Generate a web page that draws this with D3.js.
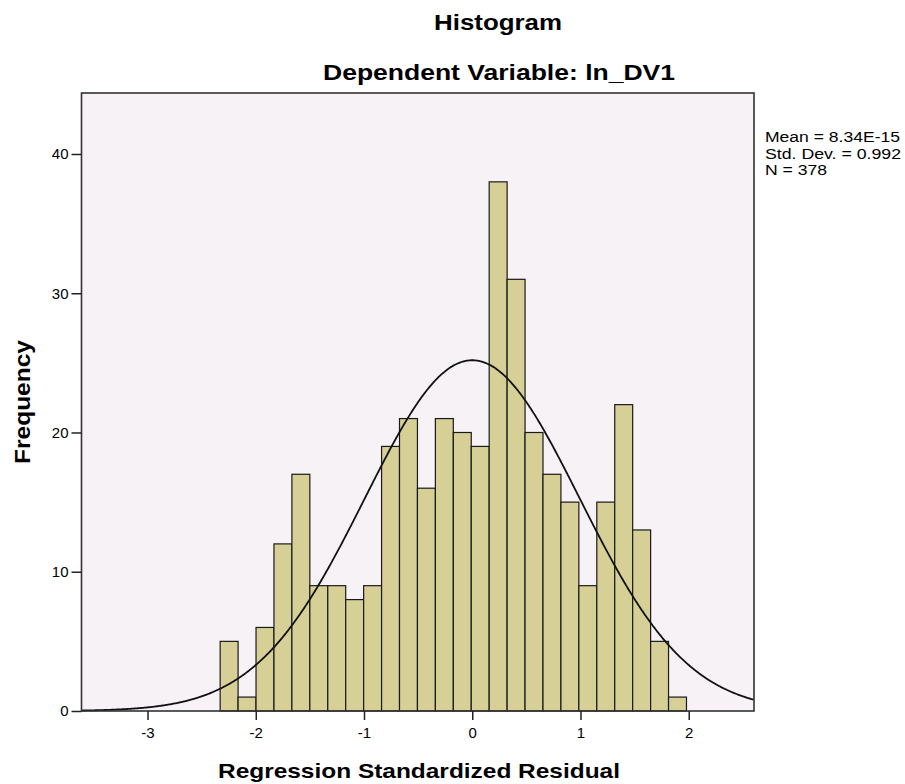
<!DOCTYPE html>
<html>
<head>
<meta charset="utf-8">
<script src="https://cdn.jsdelivr.net/npm/d3@7"></script>
<style>
  body { margin: 0; background: #ffffff; }
  text { font-family: "Liberation Sans", Arial, sans-serif; fill: #000; }
</style>
</head>
<body>
<svg id="chart"></svg>
<script>
const width = 905;
const height = 784;

// 資料：直方圖每個 bin 的次數
const counts = [5, 1, 6, 12, 17, 9, 9, 8, 9, 19, 21, 16, 21, 20, 19, 38, 31, 20, 17, 15, 9, 15, 22, 13, 5, 1];
const binStart = -2.329;
const binWidth = 0.1657;
const xTicks = [-3, -2, -1, 0, 1, 2];
const yTicks = [0, 10, 20, 30, 40];
const statsLines = ['Mean = 8.34E-15', 'Std. Dev. = 0.992', 'N = 378'];
const mean = 8.34e-15, sd = 0.992, n = 378;

// 繪圖區
const plot = { left: 81.5, right: 754, top: 93, bottom: 711 };

const svg = d3.select('#chart')
    .attr('width', width)
    .attr('height', height);

const x = d3.scaleLinear().domain([-3.61, 2.603]).range([plot.left, plot.right]);
const y = d3.scaleLinear().domain([0, 44.38]).range([plot.bottom, plot.top]);

// 背景
svg.append('rect')
    .attr('x', plot.left).attr('y', plot.top)
    .attr('width', plot.right - plot.left).attr('height', plot.bottom - plot.top)
    .attr('fill', '#f6f2f6');

// bars
svg.selectAll('.bar')
    .data(counts)
    .enter()
    .append('rect')
    .attr('class', 'bar')
    .attr('x', (d, i) => x(binStart + i * binWidth))
    .attr('width', (d, i) => x(binStart + (i + 1) * binWidth) - x(binStart + i * binWidth))
    .attr('y', d => y(d))
    .attr('height', d => y(0) - y(d))
    .attr('fill', '#d6cf96')
    .attr('stroke', '#1a1a1a')
    .attr('stroke-width', 1.2);

// 常態曲線 (由 mean / sd / N 推算)
const curvePts = d3.range(-3.61, 2.6031, 0.01).map(v => [v,
    n * binWidth / (sd * Math.sqrt(2 * Math.PI)) * Math.exp(-0.5 * ((v - mean) / sd) ** 2)]);
svg.append('path')
    .datum(curvePts)
    .attr('d', d3.line().x(d => x(d[0])).y(d => y(d[1])).curve(d3.curveBasis))
    .attr('fill', 'none')
    .attr('stroke', '#111')
    .attr('stroke-width', 1.8);

// 外框
svg.append('rect')
    .attr('x', plot.left).attr('y', plot.top)
    .attr('width', plot.right - plot.left).attr('height', plot.bottom - plot.top)
    .attr('fill', 'none')
    .attr('stroke', '#333')
    .attr('stroke-width', 1.6);

// axes  (用一般連字號 "-"，不用 d3 預設的 "−")
const xAxis = svg.append('g')
    .attr('transform', `translate(0,${plot.bottom})`)
    .call(d3.axisBottom(x).tickValues(xTicks).tickSize(9).tickPadding(4).tickFormat(d => String(d)));
const yAxis = svg.append('g')
    .attr('transform', `translate(${plot.left},0)`)
    .call(d3.axisLeft(y).tickValues(yTicks).tickSize(10).tickPadding(3).tickFormat(d => String(d)));
[xAxis, yAxis].forEach(g => {
    g.select('.domain').remove();
    g.selectAll('line').attr('stroke', '#222').attr('stroke-width', 1.5);
    g.selectAll('text').style('font-size', '15px').attr('fill', '#000');
});
xAxis.selectAll('text').attr('dy', '0.95em');

// titles
svg.append('text')
    .attr('x', 498).attr('y', 30)
    .attr('text-anchor', 'middle')
    .style('font-size', '22px').style('font-weight', 'bold')
    .attr('textLength', 128).attr('lengthAdjust', 'spacingAndGlyphs')
    .text('Histogram');
svg.append('text')
    .attr('x', 499).attr('y', 80)
    .attr('text-anchor', 'middle')
    .style('font-size', '22px').style('font-weight', 'bold')
    .attr('textLength', 352).attr('lengthAdjust', 'spacingAndGlyphs')
    .text('Dependent Variable: ln_DV1');
svg.append('text')
    .attr('x', 419).attr('y', 778)
    .attr('text-anchor', 'middle')
    .style('font-size', '21px').style('font-weight', 'bold')
    .attr('textLength', 402).attr('lengthAdjust', 'spacingAndGlyphs')
    .text('Regression Standardized Residual');
svg.append('text')
    .attr('transform', 'translate(30,402) rotate(-90)')
    .attr('text-anchor', 'middle')
    .style('font-size', '22px').style('font-weight', 'bold')
    .attr('textLength', 124).attr('lengthAdjust', 'spacingAndGlyphs')
    .text('Frequency');

// 統計資訊
svg.append('g').selectAll('text')
    .data(statsLines)
    .enter()
    .append('text')
    .attr('x', 765)
    .attr('y', (d, i) => 142 + i * 16.5)
    .style('font-size', '15.5px')
    .attr('textLength', (d, i) => [135, 136, 62][i])
    .attr('lengthAdjust', 'spacingAndGlyphs')
    .text(d => d);
</script>
</body>
</html>
